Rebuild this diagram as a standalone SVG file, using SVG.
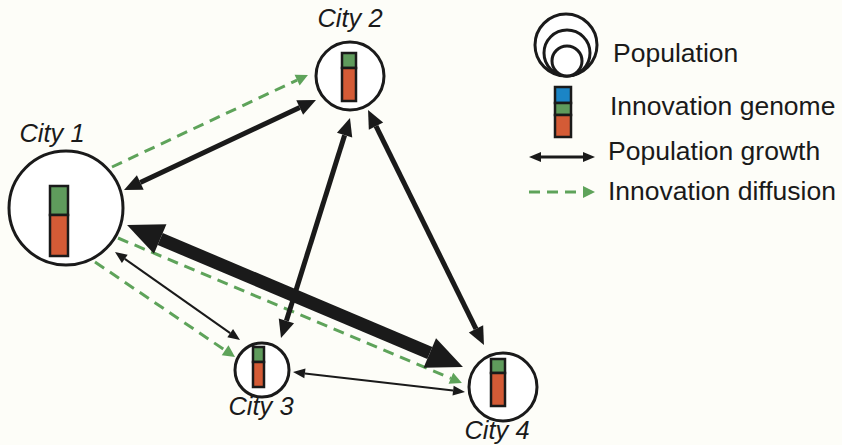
<svg xmlns="http://www.w3.org/2000/svg" width="842" height="445" viewBox="0 0 842 445">
<style>
.bg{fill:#fdfdf8}
.city{fill:#ffffff;stroke:#1a1a1a;stroke-width:3}
.bar{stroke:#1a1a1a;stroke-width:2.5}
.g{fill:#5f9b5c}
.r{fill:#d45b36}
.b{fill:#1b85c6}
.lbl{font-family:"Liberation Sans",Arial,sans-serif;font-style:italic;font-size:25.5px;fill:#1a1a1a;text-anchor:middle}
.leg{font-family:"Liberation Sans",Arial,sans-serif;font-size:26.5px;fill:#1a1a1a}
.pg{stroke:#1a1a1a;fill:none}
.dif{stroke:#5ea35a;stroke-width:3;stroke-dasharray:11 7;fill:none}
</style>
<defs>
<marker id="hL" markerUnits="userSpaceOnUse" markerWidth="20" markerHeight="18" refX="0" refY="8" orient="auto-start-reverse" viewBox="0 0 20 16" overflow="visible"><path d="M0,0 L18,8 L0,16 z" fill="#1a1a1a"/></marker>
<marker id="hS" markerUnits="userSpaceOnUse" markerWidth="14" markerHeight="10" refX="0" refY="5" orient="auto-start-reverse" viewBox="0 0 14 10" overflow="visible"><path d="M0,0 L12,5 L0,10 z" fill="#1a1a1a"/></marker>
<marker id="hXL" markerUnits="userSpaceOnUse" markerWidth="40" markerHeight="32" refX="0" refY="16" orient="auto-start-reverse" viewBox="0 0 40 32" overflow="visible"><path d="M0,0 L36,16 L0,32 z" fill="#1a1a1a"/></marker>
<marker id="hG" markerUnits="userSpaceOnUse" markerWidth="14" markerHeight="12" refX="0" refY="6" orient="auto" viewBox="0 0 14 12" overflow="visible"><path d="M0,0 L12,6 L0,12 z" fill="#5ea35a"/></marker>
</defs>
<rect class="bg" x="0" y="0" width="842" height="445"/>
<g id="connectors">
<line class="dif" x1="112" y1="167" x2="297.1" y2="80.1" marker-end="url(#hG)"/>
<line class="dif" x1="118" y1="238" x2="450.9" y2="378.3" marker-end="url(#hG)"/>
<line class="dif" x1="95" y1="262" x2="225.1" y2="350.3" marker-end="url(#hG)"/>
<line class="pg" stroke-width="5" x1="140.3" y1="182.4" x2="299.7" y2="107.6" marker-start="url(#hL)" marker-end="url(#hL)"/>
<line class="pg" stroke-width="5" x1="344.6" y1="135.2" x2="286.4" y2="320.8" marker-start="url(#hL)" marker-end="url(#hL)"/>
<line class="pg" stroke-width="5" x1="376.0" y1="126.1" x2="476.0" y2="328.9" marker-start="url(#hL)" marker-end="url(#hL)"/>
<line class="pg" stroke-width="13" x1="160.2" y1="239.0" x2="429.8" y2="353.0" marker-start="url(#hXL)" marker-end="url(#hXL)"/>
<line class="pg" stroke-width="2" x1="124.8" y1="258.9" x2="230.2" y2="333.1" marker-start="url(#hS)" marker-end="url(#hS)"/>
<line class="pg" stroke-width="2" x1="304.9" y1="373.4" x2="453.1" y2="390.6" marker-start="url(#hS)" marker-end="url(#hS)"/>
</g>
<g id="city1">
<circle class="city" cx="66" cy="208" r="57"/>
<rect class="bar g" x="50" y="186" width="18" height="29"/>
<rect class="bar r" x="50" y="215" width="18" height="41"/>
<text class="lbl" x="52" y="142">City 1</text>
</g>
<g id="city2">
<circle class="city" cx="350" cy="76" r="34"/>
<rect class="bar g" x="342" y="53" width="14" height="15"/>
<rect class="bar r" x="342" y="68" width="14" height="33"/>
<text class="lbl" x="350" y="27">City 2</text>
</g>
<g id="city3">
<circle class="city" cx="262" cy="370" r="27"/>
<rect class="bar g" x="253" y="347" width="11" height="15"/>
<rect class="bar r" x="253" y="362" width="11" height="25"/>
<text class="lbl" x="261" y="415">City 3</text>
</g>
<g id="city4">
<circle class="city" cx="503" cy="387" r="34"/>
<rect class="bar g" x="491" y="359" width="14" height="14"/>
<rect class="bar r" x="491" y="373" width="14" height="33"/>
<text class="lbl" x="497" y="439">City 4</text>
</g>
<g id="legend">
<circle class="city" cx="566" cy="45" r="31" fill="none"/>
<circle class="city" cx="567" cy="53" r="23"/>
<circle class="city" cx="567" cy="61" r="15"/>
<text class="leg" x="613" y="62">Population</text>
<rect class="bar b" x="555" y="87" width="16" height="16"/>
<rect class="bar g" x="555" y="103" width="16" height="12"/>
<rect class="bar r" x="555" y="115" width="16" height="22"/>
<text class="leg" x="610" y="115">Innovation genome</text>
<line class="pg" stroke-width="3" x1="541" y1="157" x2="583" y2="157" marker-start="url(#hS)" marker-end="url(#hS)"/>
<text class="leg" x="608" y="160">Population growth</text>
<line class="dif" x1="529" y1="192" x2="583" y2="192" marker-end="url(#hG)"/>
<text class="leg" x="608" y="200">Innovation diffusion</text>
</g>
</svg>
